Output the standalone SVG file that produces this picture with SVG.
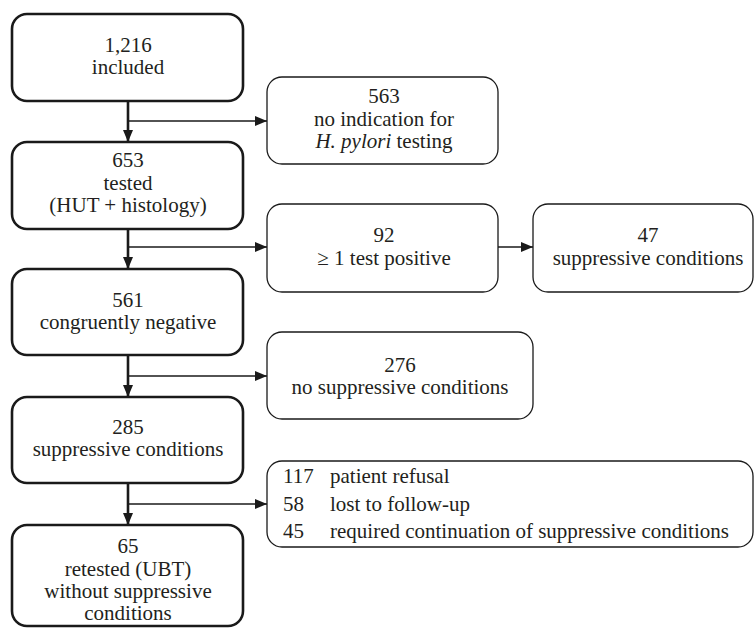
<svg xmlns="http://www.w3.org/2000/svg" width="754" height="628" viewBox="0 0 754 628" font-family="Liberation Serif, DejaVu Serif, serif">
<style>
.main{fill:#fff;stroke:#1a1a1a;stroke-width:2.6}
.side{fill:#fff;stroke:#1a1a1a;stroke-width:1.3}
text{font-size:21px;fill:#231f20}
.c{text-anchor:middle}
.thick{stroke:#1a1a1a;stroke-width:2.6;fill:none}
.thin{stroke:#1a1a1a;stroke-width:1.3;fill:none}
</style>
<defs>
<marker id="ah" viewBox="0 0 12 10" refX="12" refY="5" markerWidth="12" markerHeight="10" markerUnits="userSpaceOnUse" orient="auto">
<path d="M0,0 L12,5 L0,10 Z" fill="#1a1a1a"/>
</marker>
</defs>
<g id="connectors">
<line class="thick" x1="128" y1="101" x2="128" y2="142" marker-end="url(#ah)"/>
<line class="thin" x1="128" y1="121" x2="267" y2="121" marker-end="url(#ah)"/>
<line class="thick" x1="128" y1="229" x2="128" y2="269" marker-end="url(#ah)"/>
<line class="thin" x1="128" y1="247" x2="267" y2="247" marker-end="url(#ah)"/>
<line class="thin" x1="498" y1="247" x2="533" y2="247" marker-end="url(#ah)"/>
<line class="thick" x1="128" y1="355" x2="128" y2="397" marker-end="url(#ah)"/>
<line class="thin" x1="128" y1="376" x2="267" y2="376" marker-end="url(#ah)"/>
<line class="thick" x1="128" y1="483" x2="128" y2="525" marker-end="url(#ah)"/>
<line class="thin" x1="128" y1="504" x2="267" y2="504" marker-end="url(#ah)"/>
</g>
<g id="n1216">
<rect class="main" x="12" y="14" width="231" height="87" rx="15"/>
<text class="c" x="128" y="52">1,216</text>
<text class="c" x="128" y="74">included</text>
</g>
<g id="n563">
<rect class="side" x="267" y="77" width="231" height="87" rx="15"/>
<text class="c" x="384" y="103">563</text>
<text class="c" x="384" y="126">no indication for</text>
<text class="c" x="384" y="148"><tspan font-style="italic">H. pylori</tspan> testing</text>
</g>
<g id="n653">
<rect class="main" x="12" y="142" width="231" height="87" rx="15"/>
<text class="c" x="128" y="167">653</text>
<text class="c" x="128" y="190">tested</text>
<text class="c" x="128" y="212">(HUT + histology)</text>
</g>
<g id="n92">
<rect class="side" x="267" y="204" width="231" height="88" rx="15"/>
<text class="c" x="384" y="242">92</text>
<text class="c" x="384" y="265">≥ 1 test positive</text>
</g>
<g id="n47">
<rect class="side" x="533" y="204" width="220" height="88" rx="15"/>
<text class="c" x="648" y="242">47</text>
<text class="c" x="648" y="265">suppressive conditions</text>
</g>
<g id="n561">
<rect class="main" x="12" y="269" width="231" height="86" rx="15"/>
<text class="c" x="128" y="307">561</text>
<text class="c" x="128" y="329">congruently negative</text>
</g>
<g id="n276">
<rect class="side" x="267" y="332" width="266" height="87" rx="15"/>
<text class="c" x="400" y="372">276</text>
<text class="c" x="400" y="394">no suppressive conditions</text>
</g>
<g id="n285">
<rect class="main" x="12" y="397" width="231" height="86" rx="15"/>
<text class="c" x="128" y="434">285</text>
<text class="c" x="128" y="456">suppressive conditions</text>
</g>
<g id="nlost">
<rect class="side" x="267" y="461" width="486" height="86" rx="15"/>
<text x="283" y="483">117</text>
<text x="330" y="483">patient refusal</text>
<text x="283" y="511">58</text>
<text x="330" y="511">lost to follow-up</text>
<text x="283" y="538">45</text>
<text x="330" y="538">required continuation of suppressive conditions</text>
</g>
<g id="n65">
<rect class="main" x="12" y="525" width="231" height="101" rx="15"/>
<text class="c" x="128" y="553">65</text>
<text class="c" x="128" y="576">retested (UBT)</text>
<text class="c" x="128" y="598">without suppressive</text>
<text class="c" x="128" y="620">conditions</text>
</g>
</svg>
